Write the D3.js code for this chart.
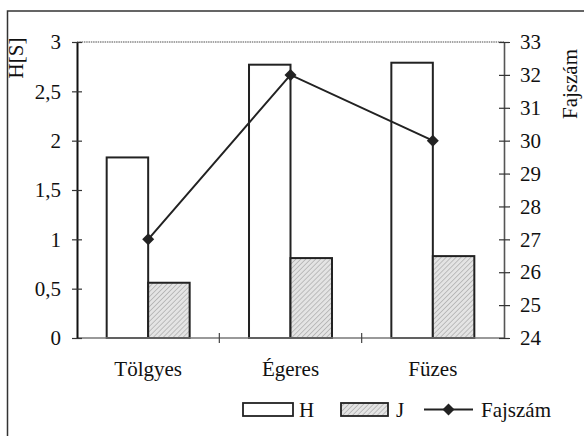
<!DOCTYPE html>
<html><head><meta charset="utf-8">
<script src="https://cdn.jsdelivr.net/npm/d3@7"></script>
<style>
html,body{margin:0;padding:0;background:#fff;}
svg{display:block;}
svg text{font-family:"Liberation Serif","Times New Roman",Tinos,"DejaVu Serif",serif !important;fill:#111;}
</style></head>
<body>
<svg id="c" width="584" height="436"></svg>
<script>
const categories = ["Tölgyes", "Égeres", "Füzes"];
const seriesNames = ["H", "J"];
const valuesH = [1.83, 2.77, 2.79];
const valuesJ = [0.56, 0.81, 0.83];
const fajszam = [27, 32, 30];
const leftTicks = [0, 0.5, 1, 1.5, 2, 2.5, 3];
const rightTicks = [24, 25, 26, 27, 28, 29, 30, 31, 32, 33];
const leftTitle = "H[S]";
const rightTitle = "Fajszám";
const lineName = "Fajszám";

const FONT = '"Liberation Serif","Times New Roman",Tinos,"DejaVu Serif",serif';
const svg = d3.select("#c");
const M = {l: 77, r: 504, t: 42, b: 338};
const FS = 21;

// pattern
const defs = svg.append("defs");
const pat = defs.append("pattern").attr("id", "hatch").attr("patternUnits", "userSpaceOnUse")
  .attr("width", 3.5).attr("height", 3.5).attr("patternTransform", "rotate(45)");
pat.append("rect").attr("width", 3.5).attr("height", 3.5).attr("fill", "#e4e4e4");
pat.append("line").attr("x1", 0).attr("y1", 0).attr("x2", 0).attr("y2", 3.5)
  .attr("stroke", "#9a9a9a").attr("stroke-width", 1.1);

// outer frame
svg.append("path").attr("d", `M7.5,436 L7.5,11 L584,11`).attr("fill", "none")
  .attr("stroke", "#333").attr("stroke-width", 1.5);

const p = 0.417;
const x0 = d3.scaleBand().domain(categories).range([M.l, M.r]).paddingInner(p).paddingOuter(p / 2);
const x1 = d3.scaleBand().domain(seriesNames).range([0, x0.bandwidth()]);
const y = d3.scaleLinear().domain([0, 3]).range([M.b, M.t]);
const y2 = d3.scaleLinear().domain([24, 33]).range([M.b, M.t]);
const xb = d3.scaleLinear().domain([0, categories.length]).range([M.l, M.r]);

// top border of plot
svg.append("line").attr("x1", M.l).attr("x2", M.r).attr("y1", M.t).attr("y2", M.t)
  .attr("stroke", "#888").attr("stroke-width", 1.3).attr("stroke-dasharray", "1.5,0.8");

// bars
const data = categories.map((c, i) => ({c, H: valuesH[i], J: valuesJ[i]}));
const g = svg.append("g");
data.forEach(d => {
  seriesNames.forEach(s => {
    g.append("rect")
      .attr("x", x0(d.c) + x1(s)).attr("y", y(d[s]))
      .attr("width", x1.bandwidth()).attr("height", y(0) - y(d[s]))
      .attr("fill", s === "H" ? "#fff" : "url(#hatch)")
      .attr("stroke", "#222").attr("stroke-width", 2);
  });
});

// bottom axis line
svg.append("line").attr("x1", M.l).attr("x2", M.r).attr("y1", M.b).attr("y2", M.b)
  .attr("stroke", "#777").attr("stroke-width", 1.5);
// category boundary ticks
d3.range(categories.length + 1).forEach(i => {
  if (i === 0 || i === categories.length) return;
  svg.append("line").attr("x1", xb(i)).attr("x2", xb(i)).attr("y1", M.b - 5).attr("y2", M.b + 5)
    .attr("stroke", "#444").attr("stroke-width", 1.2);
});
// category labels
const xAxis = svg.append("g").attr("transform", `translate(0,${M.b})`)
  .call(d3.axisBottom(x0).tickSize(0).tickPadding(23));
xAxis.attr("font-family", FONT).attr("font-size", FS);
xAxis.select(".domain").remove();
xAxis.selectAll("text").attr("fill", "#111");

// left axis
const lAxis = svg.append("g").attr("transform", `translate(${M.l},0)`)
  .call(d3.axisLeft(y).tickValues(leftTicks).tickSizeOuter(0).tickSizeInner(5).tickPadding(11)
    .tickFormat(d => String(d).replace(".", ",")));
lAxis.attr("font-family", FONT).attr("font-size", FS);
lAxis.select(".domain").attr("stroke", "#111").attr("stroke-width", 2);
lAxis.selectAll(".tick line").attr("stroke", "#333").attr("stroke-width", 1.2).attr("x2", 5).attr("x1", -5);
lAxis.selectAll("text").attr("fill", "#111");

// right axis
const rAxis = svg.append("g").attr("transform", `translate(${M.r},0)`)
  .call(d3.axisRight(y2).tickValues(rightTicks).tickSizeOuter(0).tickSizeInner(5).tickPadding(11));
rAxis.attr("font-family", FONT).attr("font-size", FS);
rAxis.select(".domain").attr("stroke", "#555").attr("stroke-width", 1.6);
rAxis.selectAll(".tick line").attr("stroke", "#333").attr("stroke-width", 1.2).attr("x1", -5).attr("x2", 6);
rAxis.selectAll("text").attr("fill", "#111");

// line series
const cx = c => x0(c) + x0.bandwidth() / 2;
const line = d3.line().x((d, i) => cx(categories[i])).y(d => y2(d));
svg.append("path").datum(fajszam).attr("d", line).attr("fill", "none")
  .attr("stroke", "#222").attr("stroke-width", 2);
const diamond = d3.symbol().type(d3.symbolSquare).size(72);
svg.selectAll(".mk").data(fajszam).enter().append("path")
  .attr("transform", (d, i) => `translate(${cx(categories[i])},${y2(d)}) rotate(45)`)
  .attr("d", diamond).attr("fill", "#222");

// titles
svg.append("text").attr("transform", "translate(23,58) rotate(-90)").attr("text-anchor", "middle")
  .attr("font-family", FONT).attr("font-size", FS).text(leftTitle);
svg.append("text").attr("transform", "translate(577,84) rotate(-90)").attr("text-anchor", "middle")
  .attr("font-family", FONT).attr("font-size", FS).text(rightTitle);

// legend
const lg = svg.append("g").attr("font-family", FONT).attr("font-size", FS);
const ly = 409.5;
lg.append("rect").attr("x", 243).attr("y", ly - 6.5).attr("width", 50).attr("height", 13)
  .attr("fill", "#fff").attr("stroke", "#222").attr("stroke-width", 1.8);
lg.append("text").attr("x", 299).attr("y", ly + 7).text(seriesNames[0]);
lg.append("rect").attr("x", 341).attr("y", ly - 6.5).attr("width", 47).attr("height", 13)
  .attr("fill", "url(#hatch)").attr("stroke", "#222").attr("stroke-width", 1.8);
lg.append("text").attr("x", 396).attr("y", ly + 7).text(seriesNames[1]);
lg.append("line").attr("x1", 424).attr("x2", 473).attr("y1", ly).attr("y2", ly)
  .attr("stroke", "#222").attr("stroke-width", 2);
lg.append("path").attr("transform", `translate(448.5,${ly}) rotate(45)`).attr("d", diamond).attr("fill", "#222");
lg.append("text").attr("x", 481).attr("y", ly + 7).text(lineName);
</script>
</body></html>
